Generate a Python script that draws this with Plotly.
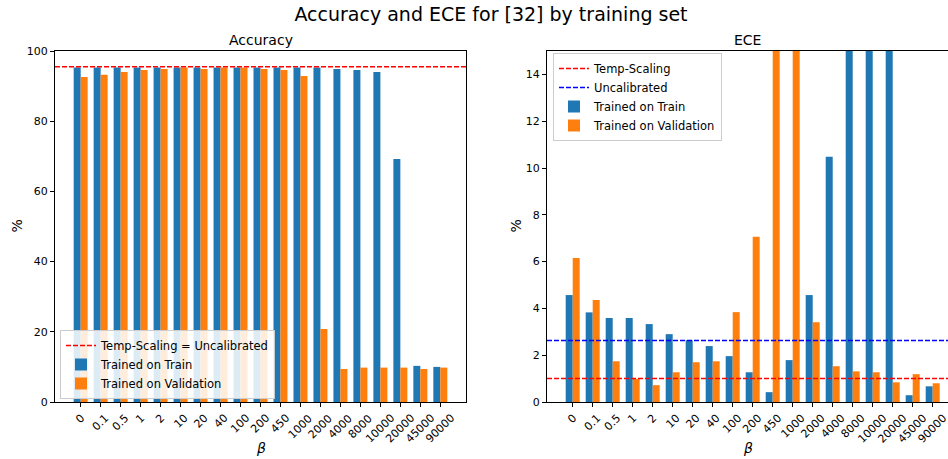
import plotly.graph_objects as go

# beta values used for the calibration training runs
betas = ["0", "0.1", "0.5", "1", "2", "10", "20", "40", "100", "200",
         "450", "1000", "2000", "4000", "8000", "10000", "20000", "45000", "90000"]

# Accuracy (%) per beta
acc_train = [95.3, 95.3, 95.3, 95.3, 95.3, 95.3, 95.3, 95.3, 95.3, 95.3,
             95.3, 95.3, 95.3, 94.9, 94.6, 94.0, 69.2, 10.3, 10.0]
acc_val = [92.6, 93.2, 94.0, 94.6, 94.9, 95.3, 94.9, 95.3, 95.3, 94.9,
           94.6, 92.9, 20.8, 9.4, 9.8, 9.8, 9.8, 9.4, 9.8]
acc_temp_scaling = 95.5

# ECE (%) per beta
ece_train = [4.57, 3.83, 3.59, 3.59, 3.33, 2.90, 2.64, 2.39, 1.96, 1.27,
             0.42, 1.79, 4.57, 10.48, 21.7, 33.5, 52.0, 0.29, 0.67]
ece_val = [6.15, 4.36, 1.74, 0.99, 0.72, 1.27, 1.70, 1.74, 3.84, 7.06,
           18.9, 24.3, 3.41, 1.53, 1.31, 1.27, 0.84, 1.19, 0.80]
ece_temp_scaling = 1.0
ece_uncalibrated = 2.63

BLUE = "#1f77b4"
ORANGE = "#ff7f0e"
FONT = "DejaVu Sans"

W, H = 948, 459
ML, MR, MT, MB = 55, 0, 51, 57
PW = W - ML - MR
PH = H - MT - MB

idx = list(range(len(betas)))
x_lo, x_hi = -1.285, 19.285

DASH = dict(width=1.5, dash="5px,2px")

fig = go.Figure()

# ---- Accuracy panel ----
fig.add_trace(go.Scatter(x=[x_lo, x_hi], y=[acc_temp_scaling] * 2, mode="lines",
                         line=dict(color="#ff0000", **DASH),
                         name="Temp-Scaling = Uncalibrated", legend="legend",
                         xaxis="x", yaxis="y"))
fig.add_trace(go.Bar(x=idx, y=acc_train, name="Trained on Train", marker_color=BLUE,
                     marker_line_width=0, legend="legend", xaxis="x", yaxis="y"))
fig.add_trace(go.Bar(x=idx, y=acc_val, name="Trained on Validation", marker_color=ORANGE,
                     marker_line_width=0, legend="legend", xaxis="x", yaxis="y"))

# ---- ECE panel ----
fig.add_trace(go.Scatter(x=[x_lo, x_hi], y=[ece_temp_scaling] * 2, mode="lines",
                         line=dict(color="#ff0000", **DASH),
                         name="Temp-Scaling", legend="legend2",
                         xaxis="x2", yaxis="y2"))
fig.add_trace(go.Scatter(x=[x_lo, x_hi], y=[ece_uncalibrated] * 2, mode="lines",
                         line=dict(color="#0000ff", **DASH),
                         name="Uncalibrated", legend="legend2",
                         xaxis="x2", yaxis="y2"))
fig.add_trace(go.Bar(x=idx, y=ece_train, name="Trained on Train", marker_color=BLUE,
                     marker_line_width=0, legend="legend2", xaxis="x2", yaxis="y2"))
fig.add_trace(go.Bar(x=idx, y=ece_val, name="Trained on Validation", marker_color=ORANGE,
                     marker_line_width=0, legend="legend2", xaxis="x2", yaxis="y2"))

left_dom = [0, (466 - ML) / PW]
right_dom = [(547 - ML) / PW, 1.0]
right_hi = x_lo + (W - 547) / 20.0

axis_common = dict(showline=True, linecolor="black", linewidth=1.1,
                   ticks="outside", ticklen=4, tickwidth=1, tickcolor="black",
                   showgrid=False, zeroline=False,
                   tickfont=dict(family=FONT, size=11, color="black"))

legend_common = dict(bgcolor="rgba(255,255,255,0.85)", bordercolor="#cccccc",
                     borderwidth=1, font=dict(family=FONT, size=11.5, color="black"))

fig.update_layout(
    width=W, height=H,
    margin=dict(l=ML, r=MR, t=MT, b=MB),
    paper_bgcolor="white", plot_bgcolor="white",
    font=dict(family=FONT, color="black"),
    barmode="group", bargap=0.3, bargroupgap=0,
    title=dict(text="Accuracy and ECE for [32] by training set",
               x=491 / W, xanchor="center", y=1 - 14 / H, yanchor="middle",
               font=dict(family=FONT, size=19, color="black")),
    xaxis=dict(domain=left_dom, range=[x_lo, x_hi], tickvals=idx,
               showticklabels=False, mirror=True, anchor="y", **axis_common),
    yaxis=dict(range=[0, 100], tickvals=[0, 20, 40, 60, 80, 100],
               mirror=True, anchor="x", **axis_common),
    xaxis2=dict(domain=right_dom, range=[x_lo, right_hi], tickvals=idx,
                showticklabels=False, mirror=True, anchor="y2", **axis_common),
    yaxis2=dict(range=[0, 15], tickvals=[0, 2, 4, 6, 8, 10, 12, 14],
                mirror=False, anchor="x2", **axis_common),
    legend=dict(x=(60 - ML) / PW, xanchor="left", y=(H - MB - 399) / PH,
                yanchor="bottom", **legend_common),
    legend2=dict(x=(553 - ML) / PW, xanchor="left", y=(H - MB - 53) / PH,
                 yanchor="top", **legend_common),
    showlegend=True,
)

annotations = []
# rotated beta tick labels, centred under each bar pair
for xa in ("x", "x2"):
    for i, b in enumerate(betas):
        annotations.append(dict(text=b, x=i, xref=xa, y=0, yref="paper",
                                xanchor="center", yanchor="top", yshift=-7,
                                textangle=-45, showarrow=False,
                                font=dict(family=FONT, size=11, color="black")))

# panel titles and x titles
for xd, yd, title in (("x domain", "y domain", "Accuracy"), ("x2 domain", "y2 domain", "ECE")):
    annotations.append(dict(text=title, x=0.5, xref=xd, y=1, yref=yd,
                            xanchor="center", yanchor="bottom", yshift=1,
                            showarrow=False, font=dict(family=FONT, size=14, color="black")))
    annotations.append(dict(text="<i>β</i>", x=0.5, xref=xd, y=0, yref=yd,
                            xanchor="center", yanchor="middle", yshift=-46,
                            showarrow=False, font=dict(family=FONT, size=14, color="black")))

# y titles
for px in (16, 515):
    annotations.append(dict(text="%", x=(px - ML) / PW, xref="paper", y=0.5, yref="paper",
                            xanchor="center", yanchor="middle", textangle=-90,
                            showarrow=False, font=dict(family=FONT, size=14, color="black")))

fig.update_layout(annotations=annotations)

fig.write_html("out.html", config={"displayModeBar": False})
